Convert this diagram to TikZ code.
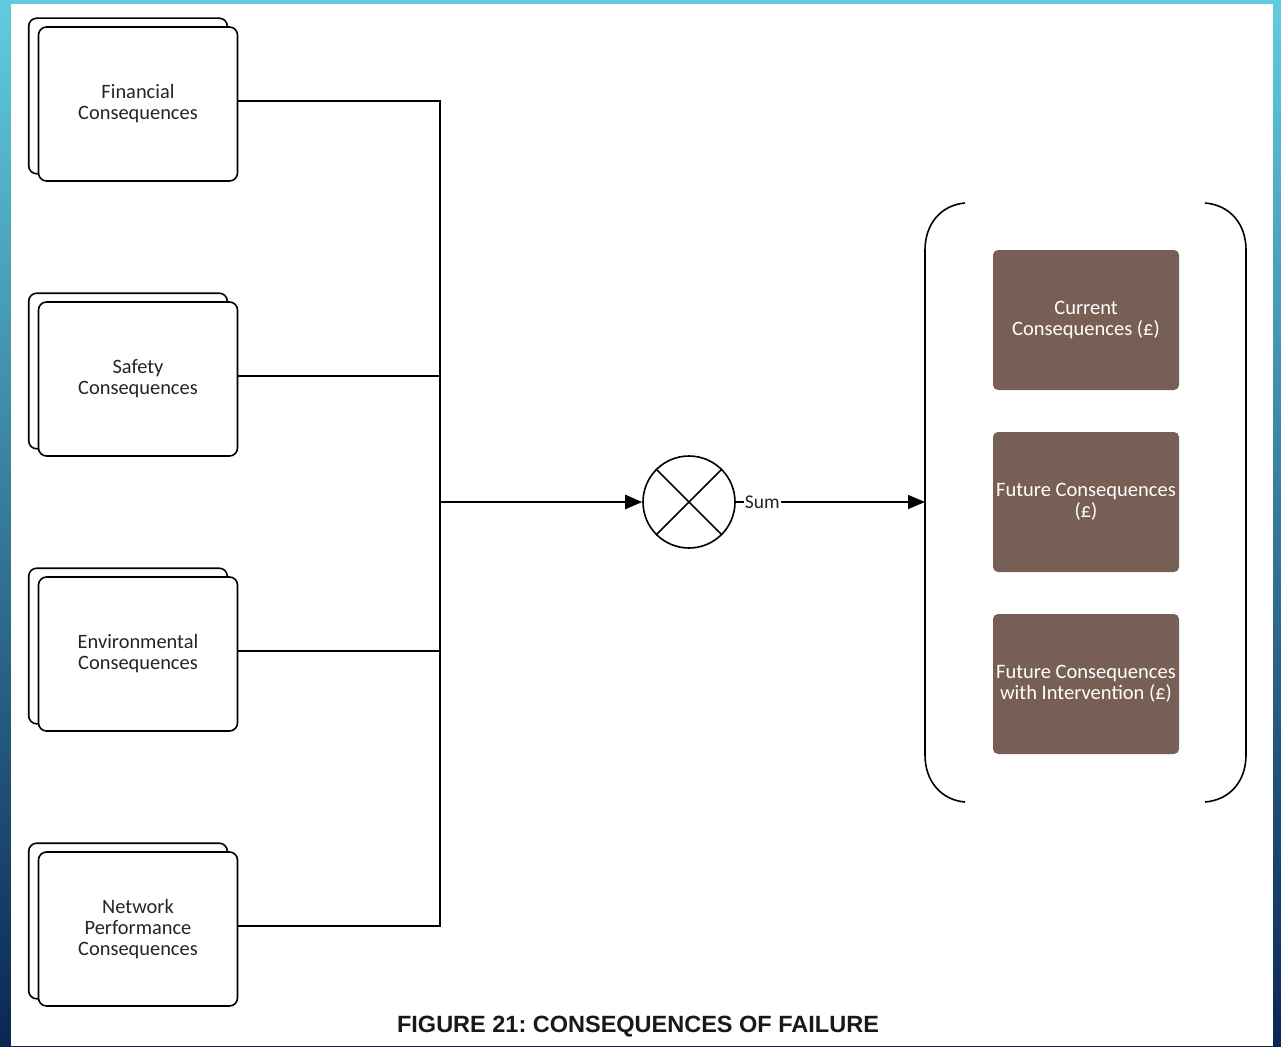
\documentclass[tikz,border=0pt]{standalone}
\usepackage{fontspec}
\setmainfont{Carlito}
\newfontfamily\captionfont{Liberation Sans}
\usetikzlibrary{arrows.meta,backgrounds}
\definecolor{boxbrown}{RGB}{120,95,85}
\definecolor{edgecyan}{RGB}{96,204,224}
\definecolor{edgeblue}{RGB}{36,118,165}
\definecolor{edgenavy}{RGB}{10,38,85}
\definecolor{labelgrey}{RGB}{35,35,45}
\frenchspacing

\begin{document}
\begin{tikzpicture}[x=1pt, y=-1pt,
	conbox/.style={draw, line width=1.6pt, rounded corners=8pt, fill=white, minimum width=199pt, minimum height=154pt, align=center, text=labelgrey, font=\fontsize{20.4}{21}\selectfont},
	backbox/.style={draw, line width=1.6pt, rounded corners=8pt, fill=white},
	resultbox/.style={fill=boxbrown, rounded corners=5pt, minimum width=186pt, minimum height=140pt, inner sep=1pt, align=center, text=white, font=\fontsize{20.5}{20.5}\selectfont},
	link/.style={line width=1.4pt},
	bracket/.style={line width=1.6pt}]
		%%%%% START %%%%%
		
		\useasboundingbox (0, 0) rectangle (1281, 1046);
		\begin{scope}[on background layer]
			\shade[top color=edgecyan, middle color=edgeblue, bottom color=edgenavy] (0, 0) rectangle (1281, 1046);
			\fill[white] (11, 4) rectangle (1273, 1046);
		\end{scope}
		
		\node[conbox] (fin) at (138, 104) {Financial\\Consequences};
		\node[conbox] (safety) at (138, 379) {Safety\\Consequences};
		\node[conbox] (env) at (138, 654) {Environmental\\Consequences};
		\node[conbox] (network) at (138, 929) {Network\\Performance\\Consequences};
		
		\begin{scope}[on background layer]
			\foreach \n in {fin, safety, env, network}
				\draw[backbox] ([shift={(-9, -8)}]\n.north west) rectangle ([shift={(-11, -8)}]\n.south east);
		\end{scope}
		
		\coordinate (join) at (440, 502);
		\foreach \n in {fin, safety, env, network}
			\draw[link] ([yshift=3pt]\n.east) -| (join);
		
		\node[draw, circle, line width=1.6pt, minimum size=92pt, inner sep=0pt] (sumop) at (689, 502) {};
		\draw[line width=1.6pt] (sumop.north west) -- (sumop.south east);
		\draw[line width=1.6pt] (sumop.north east) -- (sumop.south west);
		
		\draw[line width=2.6pt, -{Triangle[length=17pt, width=14pt]}] (join) -- (sumop.west);
		
		\coordinate (brk) at (925, 502);
		\draw[link, -{Triangle[length=17pt, width=14pt]}] (sumop.east) -- node[pos=0.14, fill=white, inner sep=1pt, text=labelgrey, font=\fontsize{19.5}{20}\selectfont] (sumlabel) {Sum} (brk);
		
		\draw[bracket] (965, 203) .. controls (941, 205) and (925, 224) .. (925, 250) -- (925, 755) .. controls (925, 781) and (941, 800) .. (965, 802);
		\draw[bracket] (1205, 203) .. controls (1230, 205) and (1246, 224) .. (1246, 250) -- (1246, 755) .. controls (1246, 781) and (1230, 800) .. (1205, 802);
		
		\node[resultbox] (current) at (1086, 320) {Current\\Consequences (£)};
		\node[resultbox] (future) at (1086, 502) {Future Consequences\\(£)};
		\node[resultbox] (futureint) at (1086, 684) {Future Consequences\\with Intervention (£)};
		
		\node[font=\captionfont\bfseries\fontsize{23.5}{26}\selectfont, text=black!90] (caption) at (638, 1027) {FIGURE 21: CONSEQUENCES OF FAILURE};
		
		%%%%% END %%%%%
\end{tikzpicture}
\end{document}
